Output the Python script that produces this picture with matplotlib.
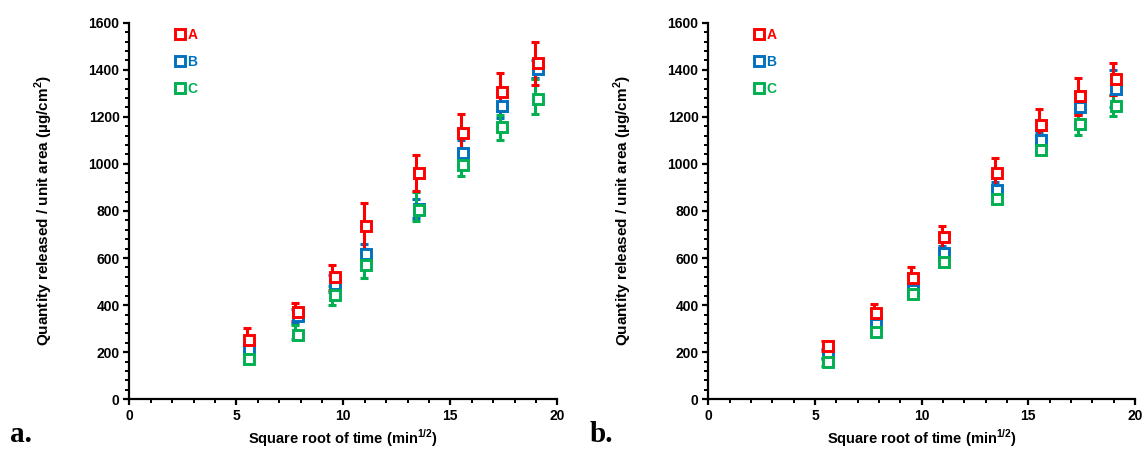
import matplotlib
matplotlib.use("Agg")
import matplotlib.pyplot as plt
import matplotlib.transforms as mtransforms
from matplotlib.ticker import MultipleLocator
from matplotlib.lines import Line2D

plt.rcParams['font.family'] = ['Liberation Sans', 'DejaVu Sans']
plt.rcParams['mathtext.fontset'] = 'custom'
plt.rcParams['mathtext.rm'] = 'Liberation Sans'
plt.rcParams['mathtext.bf'] = 'Liberation Sans:bold'

# Square root of sampling time (min^1/2)
sqrt_time = [5.48, 7.75, 9.49, 10.95, 13.42, 15.49, 17.32, 18.97]

series_names = ["A", "B", "C"]
colors = ["#FF0000", "#0070C0", "#00B050"]

# Panel a: cumulative amount released (ug/cm2) and error bars (lower, upper)
a_A = [250, 370, 519, 736, 961, 1130, 1304, 1427]
a_B = [215, 352, 491, 618, 810, 1045, 1244, 1403]
a_C = [170, 272, 441, 569, 806, 997, 1155, 1276]
a_A_err = [52, 39, 53, 99, 75, 81, 81, 90]
a_B_err = [15, 30, 35, 43, 40, 55, 48, 40]
a_C_err_low = [12, 15, 42, 53, 49, 49, 52, 66]
a_C_err_high = [12, 45, 42, 53, 74, 49, 52, 85]

# Panel b
b_A = [226, 366, 515, 688, 961, 1165, 1287, 1361]
b_B = [194, 318, 463, 621, 890, 1102, 1241, 1320]
b_C = [158, 286, 449, 583, 852, 1060, 1170, 1248]
b_A_err = [21, 37, 45, 50, 66, 69, 78, 68]
b_B_err = [20, 25, 25, 30, 32, 35, 35, 79]
b_C_err = [15, 15, 15, 15, 15, 20, 46, 46]

FIG_W = 1146
panels = [
    ("a.", [a_A, a_B, a_C],
     [a_A_err, a_B_err, [a_C_err_low, a_C_err_high]], 129.3, 428.0),
    ("b.", [b_A, b_B, b_C], [b_A_err, b_B_err, b_C_err], 708.3, 426.7),
]

fig = plt.figure(figsize=(11.46, 4.5), dpi=100)

for tag, means, errs, left_px, width_px in panels:
    ax = fig.add_axes([left_px / FIG_W, 0.1127, width_px / FIG_W, 0.8369])
    # markers sit a couple of pixels right of their error bars
    shift = mtransforms.ScaledTranslation(2.5 / 100, 0, fig.dpi_scale_trans)
    order = [1, 2, 0]  # B underneath, then C, A on top
    for z, i in enumerate(order):
        ax.errorbar(sqrt_time, means[i], yerr=errs[i], fmt='none',
                    ecolor=colors[i], elinewidth=2.2, capsize=2.6,
                    capthick=2.2, zorder=2 + z)
    for z, i in enumerate(order):
        ax.plot(sqrt_time, means[i], linestyle='none', marker='s',
                markersize=7, markerfacecolor='white',
                markeredgecolor=colors[i], markeredgewidth=2.1,
                transform=ax.transData + shift, zorder=6 + z)

    ax.set_xlim(0, 20)
    ax.set_ylim(0, 1600)
    ax.xaxis.set_major_locator(MultipleLocator(5))
    ax.xaxis.set_minor_locator(MultipleLocator(1))
    ax.yaxis.set_major_locator(MultipleLocator(200))
    ax.yaxis.set_minor_locator(MultipleLocator(40))
    for s in ['top', 'right']:
        ax.spines[s].set_visible(False)
    for s in ['left', 'bottom']:
        ax.spines[s].set_linewidth(1.6)
    ax.tick_params(which='major', direction='out', length=4, width=1.6,
                   labelsize=10, pad=3)
    ax.tick_params(which='minor', direction='out', length=3, width=1.4)
    for lab in ax.get_xticklabels() + ax.get_yticklabels():
        lab.set_fontweight('bold')

    ax.set_xlabel("Square root of time (min$^{\\mathbf{1/2}}$)",
                  fontsize=10.5, fontweight='bold', labelpad=3)
    ax.set_ylabel("Quantity released / unit area (\u00b5g/cm$^{\\mathbf{2}}$)",
                  fontsize=11, fontweight='bold')
    ax.yaxis.set_label_coords(-0.174, 0.5)

    handles = [Line2D([], [], linestyle='none', marker='s', markersize=7,
                      markerfacecolor='white', markeredgecolor=c,
                      markeredgewidth=2.1) for c in colors]
    ax.legend(handles, series_names, loc='upper left',
              bbox_to_anchor=(0.079, 1.02), frameon=False,
              handlelength=0.6, handletextpad=0.25, labelspacing=0.95,
              labelcolor='markeredgecolor',
              prop={'weight': 'bold', 'size': 10})

    fig.text((left_px - 119) / FIG_W, 0.018, tag, fontsize=21,
             fontweight='bold', family='Liberation Serif')

fig.savefig("out.png", dpi=100)
